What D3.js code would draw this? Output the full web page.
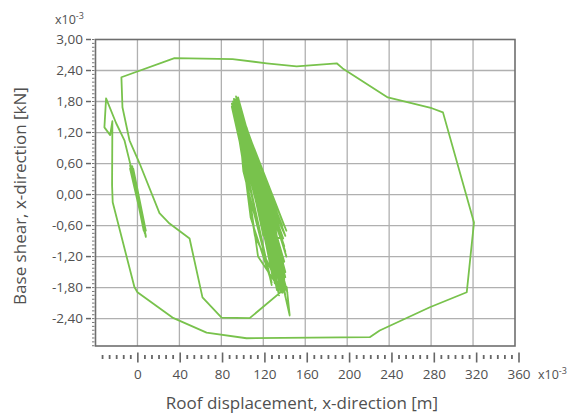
<!DOCTYPE html>
<html>
<head>
<meta charset="utf-8">
<script src="https://cdn.jsdelivr.net/npm/d3@7/dist/d3.min.js"></script>
<style>
  body { margin: 0; background: #fff; }
  text { font-family: "Open Sans", "Noto Sans", sans-serif; fill: #505050; }
</style>
</head>
<body>
<svg id="chart" width="575" height="413"></svg>
<script>
// values in x10^-3 units
const xTicks = [0, 40, 80, 120, 160, 200, 240, 280, 320, 360];
const yTicks = [-2.4, -1.8, -1.2, -0.6, 0, 0.6, 1.2, 1.8, 2.4, 3.0];

// small cycles near the origin
const smallLoop = [
  [0, 0], [-7, 0.5], [6, -0.65], [-5, 0.55], [8, -0.8], [-6, 0.42], [5, -0.5],
  [-4, 0.3], [7, -0.75], [-6, 0.5], [4, -0.35], [-3, 0.2], [6, -0.7],
  [-5, 0.45], [8, -0.82], [-7, 0.56], [2, -0.2], [7, -0.6], [-4, 0.5],
  [1, -0.05], [8, -0.7], [-6.1, 0.53]
];

// big excursion (outer loop)
const outerLoop = [
  [-12.4, 1.05], [-20.3, 1.38], [-29.9, 1.86], [-31.5, 1.30], [-26, 1.15],
  [-23.9, 1.42], [-24.2, 0.18], [-23.6, -0.15], [-2.9, -1.79], [0, -1.89],
  [33.4, -2.38], [65.9, -2.67], [104, -2.78], [221.5, -2.76], [231, -2.63],
  [278.8, -2.18], [314, -1.89], [320.9, -0.54], [291.3, 1.59], [280.7, 1.67],
  [238.7, 1.88], [195.7, 2.44], [190, 2.54], [151.8, 2.48], [123.2, 2.54],
  [90.7, 2.62], [35.3, 2.64], [-15.3, 2.27], [-14.3, 1.69], [-7.6, 1.05],
  [1.9, 0.61], [21, -0.36], [30.6, -0.56], [49.7, -0.85], [62, -1.99],
  [80.2, -2.38], [107, -2.39], [119.4, -2.18], [142.3, -1.79]
];

// residual cycles (dense band)
const residual = [
  [145.2, -2.34], [138, -1.7], [94, 1.78], [138, -1.85], [91, 1.72], [141, -1.6],
  [96, 1.88], [135, -1.9], [92, 1.55], [140, -1.3], [98, 1.62], [131, -1.72],
  [93, 1.84], [142, -0.7], [104, 1.2], [139, -1.88], [95, 1.7], [136, -0.4],
  [101, 1.35], [134, -1.8], [90, 1.76], [141, -1.1], [99, 1.5], [129, -1.6],
  [94, 1.9], [143, -1.9], [97, 1.45], [138, -0.6], [103, 1.0], [137, -1.75],
  [92, 1.68], [130, -1.45], [95, 1.8], [141, -0.8], [106, 0.8], [140, -1.7],
  [93, 1.6], [133, -1.2], [100, 1.4], [142, -1.85], [96, 1.75], [126, -0.9],
  [91, 1.7], [139, -1.5], [98, 1.3], [135, -1.95], [94, 1.82], [140, -1.0],
  [102, 1.1], [137, -1.85], [90, 1.7], [128, -1.75], [92, 1.6],
  [96, 1.7], [112, 0.2], [139, -1.8], [122, -0.3], [91, 1.8], [105, 0.9],
  [134, -1.4], [118, -0.2], [97, 1.55], [120, 0.1], [141, -1.5], [110, 0.6],
  [93, 1.75], [115, -0.3], [138, -1.9], [125, -0.6], [100, 1.3], [128, -0.2],
  [142, -1.2], [104, 1.3], [92, 1.85], [118, -0.6], [136, -1.7], [108, 0.5],
  [95, 1.65], [130, -0.5], [140, -1.65], [112, 0.7], [97, 1.8], [121, -0.5],
  [133, -1.85], [116, 0.0], [99, 1.45], [127, -0.1], [137, -1.3], [103, 0.6],
  [94, 1.72], [122, -0.9], [141, -1.95], [132, -0.9], [98, 1.5], [139, -0.85],
  [120, -0.8], [96, 1.6], [101, 0.45], [128, -1.7], [108, -0.45], [94, 1.8],
  [115, -1.2], [138, -1.9], [112, -0.8], [92, 1.7]
];

const curve = smallLoop.concat(outerLoop, residual);

const svg = d3.select('#chart');
const plotLeft = 95.5, plotRight = 515, plotTop = 39.5, plotBottom = 346;

const x = d3.scaleLinear().domain([-40, 360]).range([plotLeft, plotRight]);
const y = d3.scaleLinear().domain([-2.93, 3.0]).range([plotBottom, plotTop]);
// the tick ruler under the plot is drawn a bit wider than the frame
const xr = d3.scaleLinear().domain([-40, 360]).range([95.5, 519]);

// grid
const grid = svg.append('g').attr('stroke', '#b0b0b0').attr('stroke-width', 1.3);
grid.selectAll('line.v').data(xTicks.slice(0, -1)).join('line')
  .attr('class', 'v')
  .attr('x1', d => x(d)).attr('x2', d => x(d))
  .attr('y1', plotTop).attr('y2', plotBottom);
grid.selectAll('line.h').data(yTicks.slice(0, -1)).join('line')
  .attr('class', 'h')
  .attr('x1', plotLeft).attr('x2', plotRight)
  .attr('y1', d => y(d)).attr('y2', d => y(d));

// curve
const line = d3.line().x(d => x(d[0])).y(d => y(d[1]));
svg.append('path')
  .datum(curve)
  .attr('d', line)
  .attr('fill', 'none')
  .attr('stroke', '#78c24c')
  .attr('stroke-width', 1.8)
  .attr('stroke-linejoin', 'round');

// frame
svg.append('rect')
  .attr('x', plotLeft).attr('y', plotTop)
  .attr('width', plotRight - plotLeft).attr('height', plotBottom - plotTop)
  .attr('fill', 'none').attr('stroke', '#6e6e6e').attr('stroke-width', 1.6);

// y ruler: major ticks with gap, minor ticks on the frame
const yMinor = d3.range(-39, 41).map(i => i * 0.075).filter(v => v >= -2.93 && v <= 3.0);
svg.append('g').selectAll('line').data(yMinor).join('line')
  .attr('x1', 92).attr('x2', 94.5)
  .attr('y1', d => y(d)).attr('y2', d => y(d))
  .attr('stroke', '#777').attr('stroke-width', 1);
svg.append('g').selectAll('line').data(yTicks).join('line')
  .attr('x1', 86).attr('x2', 91)
  .attr('y1', d => y(d)).attr('y2', d => y(d))
  .attr('stroke', '#666').attr('stroke-width', 1.5);
svg.append('g').selectAll('text').data(yTicks).join('text')
  .attr('x', 83).attr('y', d => y(d))
  .attr('dy', '0.35em')
  .attr('text-anchor', 'end')
  .attr('font-size', 13.5)
  .text(d => d3.format('.2f')(d).replace('.', ',').replace('−', '-'));

// x ruler
const xMinor = d3.range(-5, 55);
svg.append('g').selectAll('line').data(xMinor).join('line')
  .attr('x1', i => xr(i * 40 / 6)).attr('x2', i => xr(i * 40 / 6))
  .attr('y1', i => i % 6 === 0 ? 352.5 : 355)
  .attr('y2', i => i % 6 === 0 ? 362.5 : 359)
  .attr('stroke', '#666')
  .attr('stroke-width', i => i % 6 === 0 ? 1.6 : 1.8);
svg.append('g').selectAll('text').data(xTicks).join('text')
  .attr('x', d => xr(d)).attr('y', 379)
  .attr('text-anchor', 'middle')
  .attr('font-size', 13.5)
  .text(d => d);

// exponent labels
const ex = svg.append('text').attr('x', 538).attr('y', 379).attr('font-size', 12.5);
ex.append('tspan').text('x10');
ex.append('tspan').attr('dy', -5).attr('font-size', 9).text('-3');
const ey = svg.append('text').attr('x', 55).attr('y', 24).attr('font-size', 12.5);
ey.append('tspan').text('x10');
ey.append('tspan').attr('dy', -5).attr('font-size', 9).text('-3');

// axis titles
svg.append('text')
  .attr('x', 302).attr('y', 409)
  .attr('text-anchor', 'middle')
  .attr('font-size', 17)
  .text('Roof displacement, x-direction [m]');
svg.append('text')
  .attr('transform', 'translate(26,196) rotate(-90)')
  .attr('text-anchor', 'middle')
  .attr('font-size', 17)
  .text('Base shear, x-direction [kN]');
</script>
</body>
</html>
